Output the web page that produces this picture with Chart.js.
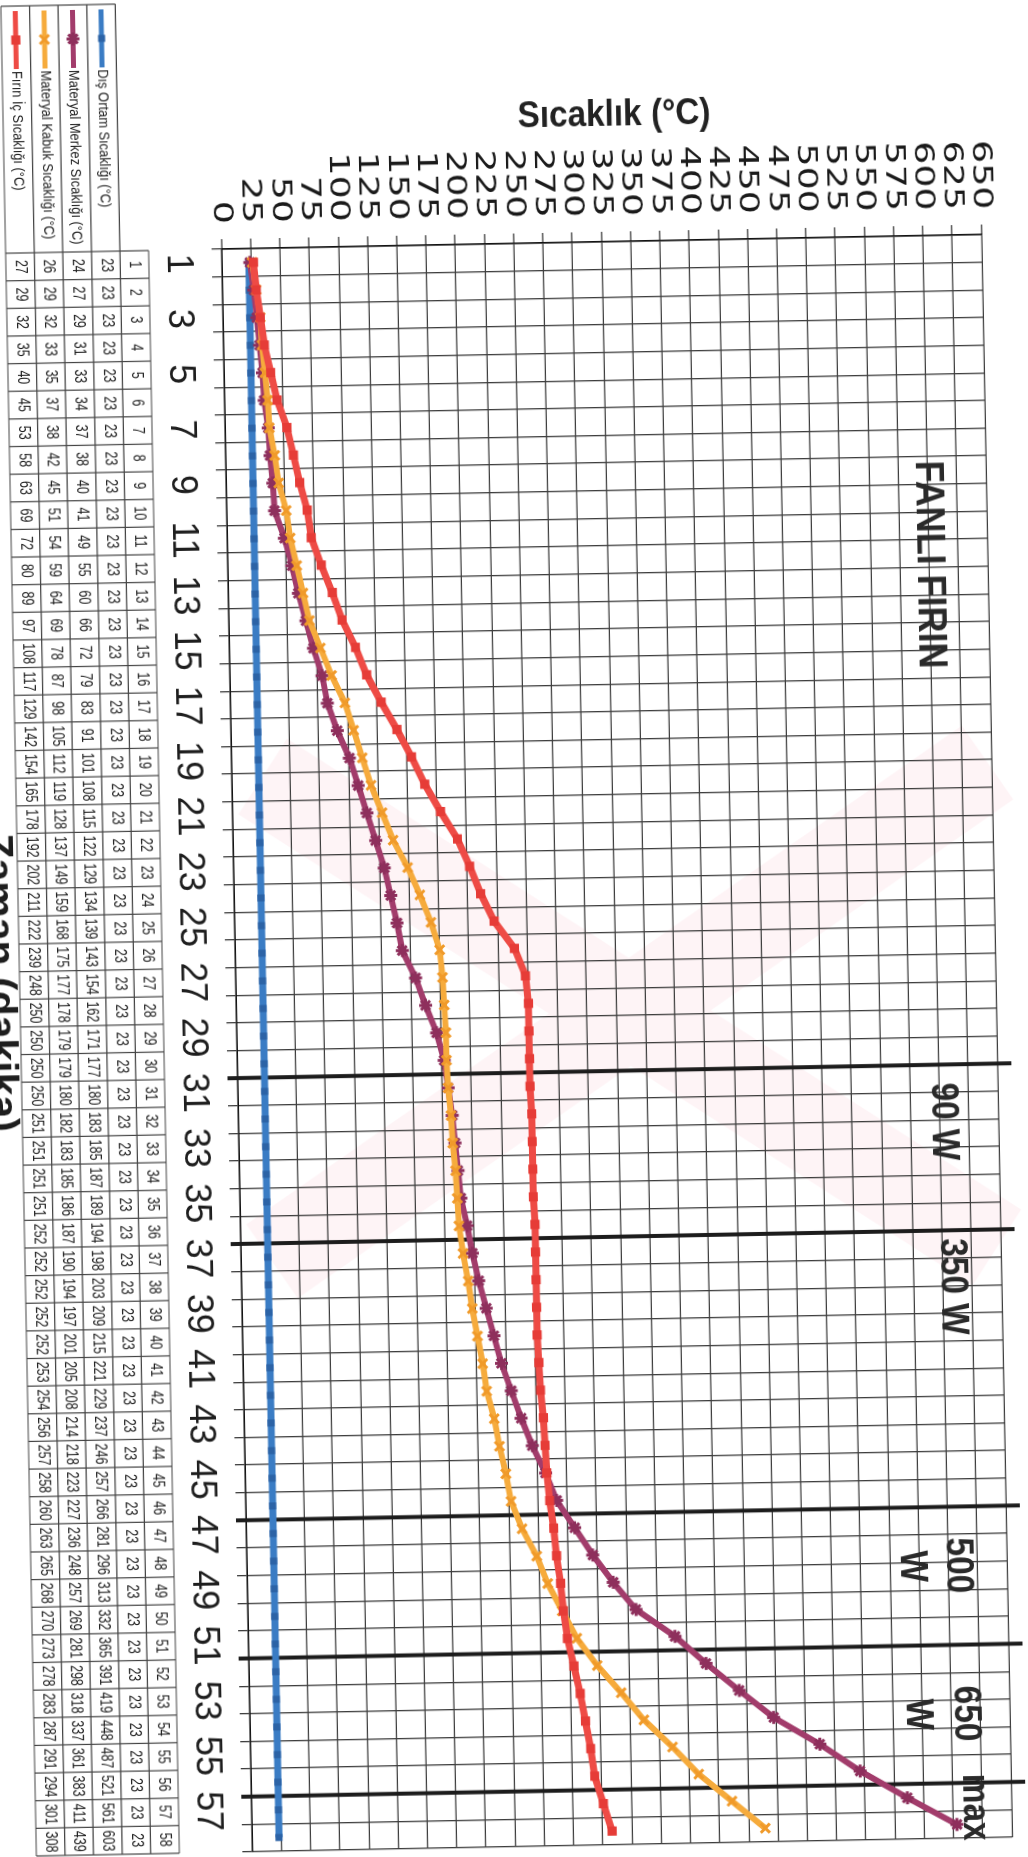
<!DOCTYPE html>
<html>
<head>
<meta charset="utf-8">
<title>Fanlı Fırın</title>
<script src="https://cdn.jsdelivr.net/npm/chart.js@4.4.0/dist/chart.umd.min.js"></script>
<style>
  html, body { margin: 0; padding: 0; background: #fff; }
  #sayfa { position: relative; width: 1028px; height: 1857px; overflow: hidden; background: #fff; }
  /* grafik yan yatik taranmis: 90 derece donuk, biraz da egik */
  #myChart { position: absolute; left: 0; top: 0; transform-origin: 0 0;
    transform: translate(1007.4px, -28px) rotate(88.9deg); }
</style>
</head>
<body>
<div id="sayfa"><canvas id="myChart" width="1920" height="1060"></canvas></div>
<script>
let dakika = ["1","2","3","4","5","6","7","8","9","10","11","12","13","14","15","16","17","18","19","20",
  "21","22","23","24","25","26","27","28","29","30","31","32","33","34","35","36","37","38","39","40",
  "41","42","43","44","45","46","47","48","49","50","51","52","53","54","55","56","57","58"];

let disOrtam = [23,23,23,23,23,23,23,23,23,23, 23,23,23,23,23,23,23,23,23,23,
  23,23,23,23,23,23,23,23,23,23, 23,23,23,23,23,23,23,23,23,23,
  23,23,23,23,23,23,23,23,23,23, 23,23,23,23,23,23,23,23];

let merkez = [24,27,29,31,33,34,37,38,40,41, 49,55,60,66,72,79,83,91,101,108,
  115,122,129,134,139,143,154,162,171,177, 180,183,185,187,189,194,198,203,209,215,
  221,229,237,246,257,266,281,296,313,332, 365,391,419,448,487,521,561,603];

let kabuk = [26,29,32,33,35,37,38,42,45,51, 54,59,64,69,78,87,98,105,112,119,
  128,137,149,159,168,175,177,178,179,179, 180,182,183,185,186,187,190,194,197,201,
  205,208,214,218,223,227,236,248,257,269, 281,298,318,337,361,383,411,439];

let firin = [27,29,32,35,40,45,53,58,63,69, 72,80,89,97,108,117,129,142,154,165,
  178,192,202,211,222,239,248,250,250,250, 250,251,251,251,251,252,252,252,252,252,
  253,254,256,257,258,260,263,265,268,270, 273,278,283,287,291,294,301,308];

let sicaklikTicks = [0,25,50,75,100,125,150,175,200,225,250,275,300,325,350,375,400,
  425,450,475,500,525,550,575,600,625,650];

// guc kademesinin degistigi dakikalar (kalin cizgiler bu dakikadan sonra)
let gucSinirlari = [30, 36, 46, 51, 56];
let gucEtiketleri = [["90 W"], ["350 W"], ["500", "W"], ["650", "W"], ["max"]];

const seriler = [
  { etiket: "Dış Ortam Sıcaklığı (°C)", veri: disOrtam, renk: "#3a7cc4", isaret: "#2c63a6", stil: "rect", r: 5 },
  { etiket: "Materyal Merkez Sıcaklığı (°C)", veri: merkez, renk: "#a23c6b", isaret: "#8e2f5c", stil: "star", r: 6.5 },
  { etiket: "Materyal Kabuk Sıcaklığı (°C)", veri: kabuk, renk: "#f6ab3c", isaret: "#f09a2a", stil: "crossRot", r: 6.5 },
  { etiket: "Fırın İç Sıcaklığı (°C)", veri: firin, renk: "#ee4b45", isaret: "#e63c37", stil: "rect", r: 6.5 }
];

const yazi = "'Liberation Sans', Arial, sans-serif";

// sikistirilmis / genisletilmis yazi
function darYaz(ctx, metin, x, y, k) {
  ctx.save();
  ctx.translate(x, y);
  ctx.scale(k, 1);
  ctx.fillText(metin, 0, 0);
  ctx.restore();
}

function isaretCiz(ctx, s, x, y) {
  ctx.fillStyle = s.isaret;
  ctx.strokeStyle = s.isaret;
  ctx.lineWidth = 3;
  if (window.Chart && Chart.helpers && Chart.helpers.drawPoint) {
    Chart.helpers.drawPoint(ctx, { pointStyle: s.stil, radius: s.r, rotation: 0, borderWidth: s.stil === "rect" ? 0 : 3 }, x, y);
  } else {
    ctx.fillRect(x - s.r, y - s.r, s.r * 2, s.r * 2);
  }
}

const tabloEklentisi = {
  id: "tablo",
  beforeDraw(chart) {
    const ctx = chart.ctx;
    ctx.save();
    ctx.fillStyle = "#fff";
    ctx.fillRect(0, 0, chart.width, chart.height);
    // soluk pembe filigran
    ctx.strokeStyle = "rgba(236, 120, 140, 0.08)";
    ctx.lineWidth = 90;
    ctx.beginPath();
    ctx.moveTo(790, 760); ctx.lineTo(1275, 35);
    ctx.moveTo(790, 35); ctx.lineTo(1275, 760);
    ctx.stroke();
    ctx.restore();
  },
  beforeDatasetsDraw(chart) {
    const ctx = chart.ctx, x = chart.scales.x, ca = chart.chartArea;
    const bant = x.getPixelForValue(1) - x.getPixelForValue(0);
    ctx.save();
    ctx.strokeStyle = "#1c1c1c";
    ctx.lineWidth = 4;
    gucSinirlari.forEach((dk) => {
      const bx = x.getPixelForValue(dk - 1) + bant / 2;
      ctx.beginPath();
      ctx.moveTo(bx, ca.top - 14);
      ctx.lineTo(bx, ca.bottom + 10);
      ctx.stroke();
    });
    ctx.restore();
  },
  afterDraw(chart) {
    const ctx = chart.ctx, x = chart.scales.x, y = chart.scales.y, ca = chart.chartArea;
    const bant = x.getPixelForValue(1) - x.getPixelForValue(0);
    const sinir = (dk) => x.getPixelForValue(dk - 1) + bant / 2;
    ctx.save();

    // y ekseni etiketleri (taramada genis gorunuyor)
    ctx.fillStyle = "#1a1a1a";
    ctx.font = "26px 'DejaVu Sans', sans-serif";
    ctx.textAlign = "right";
    ctx.textBaseline = "middle";
    sicaklikTicks.forEach((v) => {
      darYaz(ctx, String(v), ca.left - 25, y.getPixelForValue(v), 1.4);
    });

    // y ekseni basligi
    ctx.fillStyle = "#222";
    ctx.font = "bold 37px " + yazi;
    ctx.textAlign = "center";
    ctx.textBaseline = "middle";
    ctx.save();
    ctx.translate(136, (ca.top + ca.bottom) / 2 - 15);
    ctx.rotate(-Math.PI / 2);
    ctx.scale(0.9, 1);
    ctx.fillText("Sıcaklık (°C)", 0, 0);
    ctx.restore();

    // grafik ici yazilar
    ctx.fillStyle = "#2a2a2a";
    ctx.textBaseline = "alphabetic";
    ctx.textAlign = "left";
    ctx.font = "bold 40px " + yazi;
    darYaz(ctx, "FANLI FIRIN", ca.left + 225, ca.top + 70, 0.9);
    ctx.font = "bold 38px " + yazi;
    const kayma = [18, 8, 31, 41, -9];
    const satir1 = [66, 60, 60, 55, 48];
    const satir2 = [0, 0, 106, 103, 0];
    gucEtiketleri.forEach((et, i) => {
      const tx = sinir(gucSinirlari[i]) + kayma[i];
      ctx.textAlign = "left";
      darYaz(ctx, et[0], tx, ca.top + satir1[i], 0.88);
      if (et.length > 1) {
        const w = ctx.measureText(et[0]).width * 0.88;
        ctx.textAlign = "center";
        darYaz(ctx, et[1], tx + w / 2, ca.top + satir2[i], 0.88);
      }
    });

    // veri tablosu
    const ust = ca.bottom + 73, sh = 28.6, sol = 15;
    ctx.strokeStyle = "#444";
    ctx.lineWidth = 1.2;
    ctx.beginPath();
    for (let r = 0; r <= 5; r++) {
      const yy = ust + r * sh;
      ctx.moveTo(r === 0 ? ca.left : sol, yy);
      ctx.lineTo(ca.right, yy);
    }
    ctx.moveTo(sol, ust + sh);
    ctx.lineTo(sol, ust + 5 * sh);
    for (let i = 0; i <= dakika.length; i++) {
      const bx = x.getPixelForValue(0) - bant / 2 + i * bant;
      ctx.moveTo(bx, ust);
      ctx.lineTo(bx, ust + 5 * sh);
    }
    ctx.stroke();

    ctx.fillStyle = "#222";
    ctx.font = "16px " + yazi;
    ctx.textAlign = "center";
    ctx.textBaseline = "middle";
    dakika.forEach((d, i) => {
      const cx = x.getPixelForValue(i);
      darYaz(ctx, d, cx, ust + sh / 2, 0.78);
      seriler.forEach((s, r) => {
        darYaz(ctx, String(s.veri[i]), cx, ust + sh * (r + 1) + sh / 2, 0.78);
      });
    });

    // lejant
    seriler.forEach((s, r) => {
      const yy = ust + sh * (r + 1) + sh / 2;
      ctx.strokeStyle = s.renk;
      ctx.lineWidth = 5;
      ctx.beginPath();
      ctx.moveTo(sol + 5, yy);
      ctx.lineTo(sol + 63, yy);
      ctx.stroke();
      isaretCiz(ctx, s, sol + 34, yy);
      ctx.fillStyle = "#222";
      ctx.font = "15.5px " + yazi;
      ctx.textAlign = "left";
      ctx.textBaseline = "middle";
      darYaz(ctx, s.etiket, sol + 65, yy, 0.83);
    });

    // x ekseni basligi (sayfa kenarinda kesik)
    ctx.fillStyle = "#1e1e1e";
    ctx.font = "bold 41px " + yazi;
    ctx.textAlign = "left";
    ctx.textBaseline = "alphabetic";
    ctx.fillText("Zaman (dakika)", ca.left + 580, ust + 175);
    ctx.restore();
  }
};

const ctx = document.getElementById("myChart").getContext("2d");
const myChart = new Chart(ctx, {
  type: "line",
  data: {
    labels: dakika,
    datasets: seriler.map((s, i) => ({
      label: s.etiket,
      data: s.veri,
      borderColor: s.renk,
      backgroundColor: s.isaret,
      pointBackgroundColor: s.isaret,
      pointBorderColor: s.isaret,
      pointStyle: s.stil,
      pointRadius: s.r,
      pointBorderWidth: s.stil === "rect" ? 0 : 3,
      borderWidth: i === 0 || i === 3 ? 7 : 6,
      tension: 0,
      fill: false,
      order: 4 - i
    }))
  },
  options: {
    responsive: false,
    animation: false,
    devicePixelRatio: 1,
    layout: { padding: { left: 0, top: 31, right: 55, bottom: 0 } },
    plugins: { legend: { display: false }, tooltip: { enabled: false } },
    scales: {
      x: {
        type: "category",
        offset: true,
        grid: { offset: true, color: "#3d3d3d", lineWidth: 1.3, tickLength: 10 },
        border: { color: "#111", width: 1.6 },
        ticks: {
          autoSkip: false,
          maxRotation: 0,
          padding: 12,
          color: "#1e1e1e",
          font: { family: yazi, size: 36 },
          callback: function (val, i) {
            return i % 2 === 0 ? this.getLabelForValue(val) : "";
          }
        },
        afterFit: (s) => { s.height = 269; }
      },
      y: {
        min: 0,
        max: 650,
        afterBuildTicks: (s) => { s.ticks = sicaklikTicks.map((v) => ({ value: v })); },
        grid: { color: "#3d3d3d", lineWidth: 1.3, tickLength: 10 },
        border: { color: "#111", width: 1.6 },
        ticks: { display: false },
        afterFit: (s) => { s.width = 262; }
      }
    }
  },
  plugins: [tabloEklentisi]
});
</script>
</body>
</html>
